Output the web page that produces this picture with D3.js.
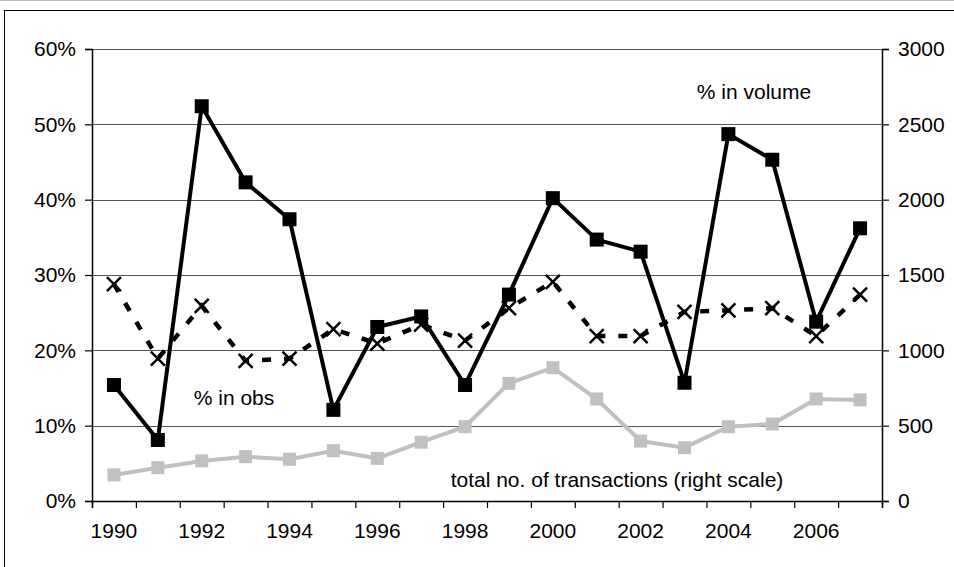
<!DOCTYPE html>
<html>
<head>
<meta charset="utf-8">
<script src="https://cdn.jsdelivr.net/npm/d3@7"></script>
<style>
    body { margin: 0; background: #fff; }
    svg text { font-family: "Liberation Sans", Arial, sans-serif; fill: #000; }
</style>
</head>
<body>
<svg id="chart" width="954" height="567"></svg>
<script>
// chart data
const years = d3.range(1990, 2008);
const pctVolume = [15.4, 8.1, 52.4, 42.3, 37.4, 12.1, 23.1, 24.5, 15.4, 27.4, 40.2, 34.7, 33.1, 15.7, 48.7, 45.3, 23.8, 36.2];
const pctObs = [28.8, 18.9, 25.9, 18.6, 18.9, 22.8, 20.9, 23.4, 21.3, 25.6, 29.1, 21.9, 21.9, 25.1, 25.3, 25.6, 21.9, 27.4];
const transactions = [173, 221, 266, 294, 277, 334, 283, 390, 493, 781, 885, 677, 398, 354, 493, 511, 677, 671];
const leftTicks = [0, 0.1, 0.2, 0.3, 0.4, 0.5, 0.6];
const rightTicks = [0, 500, 1000, 1500, 2000, 2500, 3000];

let margin = {top: 49, right: 72, bottom: 66, left: 92},
    width = 954 - margin.left - margin.right,
    height = 567 - margin.top - margin.bottom;

let svg = d3.select("#chart");

// outer frame
svg.append("line").attr("x1", 0).attr("x2", 954).attr("y1", 0.5).attr("y2", 0.5)
    .attr("stroke", "#bbb");
svg.append("rect").attr("x", 4.5).attr("y", 10.5).attr("width", 960).attr("height", 600)
    .attr("fill", "none").attr("stroke", "#000");

let g = svg.append("g")
    .attr("transform", "translate(" + margin.left + "," + margin.top + ")");

// scales
let x = d3.scaleBand().domain(years).range([0, width]).padding(0);
let xIdx = d3.scaleLinear().domain([0, years.length]).range([0, width]);
let yLeft = d3.scaleLinear().domain([0, 0.6]).range([height, 0]);
let yRight = d3.scaleLinear().domain([0, 3000]).range([height, 0]);
let cx = d => x(d) + x.bandwidth() / 2;

// gridlines
g.append("g").selectAll("line")
    .data(leftTicks.slice(1))
    .enter().append("line")
    .attr("x1", 0).attr("x2", width)
    .attr("y1", d => Math.round(yLeft(d)) + 0.5)
    .attr("y2", d => Math.round(yLeft(d)) + 0.5)
    .attr("stroke", "#555").attr("stroke-width", 1.2);

// axes
let fontSize = "21px";
let leftAxis = g.append("g")
    .call(d3.axisLeft(yLeft).tickValues(leftTicks).tickFormat(d3.format(".0%")).tickSize(7).tickPadding(9));
let rightAxis = g.append("g")
    .attr("transform", "translate(" + width + ",0)")
    .call(d3.axisRight(yRight).tickValues(rightTicks).tickFormat(d3.format("d")).tickSize(7).tickPadding(9));
let bottomTicks = g.append("g")
    .attr("transform", "translate(0," + height + ")")
    .call(d3.axisBottom(xIdx).tickValues(d3.range(years.length + 1)).tickFormat("").tickSize(7));
let bottomLabels = g.append("g")
    .attr("transform", "translate(0," + height + ")")
    .call(d3.axisBottom(x).tickSize(0).tickPadding(22)
        .tickFormat(d => (d % 2 === 0 ? d : "")));
bottomLabels.select(".domain").remove();

[leftAxis, rightAxis, bottomTicks, bottomLabels].forEach(a => {
    a.selectAll("path.domain").attr("stroke", "#000").attr("stroke-width", 1.5);
    a.selectAll(".tick line").attr("stroke", "#000").attr("stroke-width", 1.2);
    a.selectAll("text").style("font-size", fontSize).attr("font-family", null);
});

// transactions series (right scale)
let lineRight = d3.line().x((d, i) => cx(years[i])).y(d => yRight(d));
g.append("path").datum(transactions)
    .attr("d", lineRight)
    .attr("fill", "none").attr("stroke", "#c0c0c0").attr("stroke-width", 4);
g.append("g").selectAll("rect")
    .data(transactions)
    .enter().append("rect")
    .attr("x", (d, i) => cx(years[i]) - 6.5)
    .attr("y", d => yRight(d) - 6.5)
    .attr("width", 13).attr("height", 13)
    .attr("fill", "#c0c0c0");

// % in obs series (dashed, x markers)
let lineLeft = d3.line().x((d, i) => cx(years[i])).y(d => yLeft(d / 100));
g.append("path").datum(pctObs)
    .attr("d", lineLeft)
    .attr("fill", "none").attr("stroke", "#000").attr("stroke-width", 4.5)
    .attr("stroke-dasharray", "9,13");
g.append("g").selectAll("path")
    .data(pctObs)
    .enter().append("path")
    .attr("d", (d, i) => {
        let px = cx(years[i]), py = yLeft(d / 100), s = 7;
        return "M" + (px - s) + "," + (py - s) + "L" + (px + s) + "," + (py + s) +
            "M" + (px - s) + "," + (py + s) + "L" + (px + s) + "," + (py - s);
    })
    .attr("stroke", "#000").attr("stroke-width", 2.5).attr("fill", "none");

// % in volume series (solid, square markers)
g.append("path").datum(pctVolume)
    .attr("d", lineLeft)
    .attr("fill", "none").attr("stroke", "#000").attr("stroke-width", 4)
    .attr("stroke-linejoin", "round");
g.append("g").selectAll("rect")
    .data(pctVolume)
    .enter().append("rect")
    .attr("x", (d, i) => cx(years[i]) - 7)
    .attr("y", d => yLeft(d / 100) - 7)
    .attr("width", 14).attr("height", 14)
    .attr("fill", "#000");

// series labels
svg.append("text").attr("x", 754).attr("y", 99).attr("text-anchor", "middle")
    .style("font-size", fontSize).text("% in volume");
svg.append("text").attr("x", 234).attr("y", 405).attr("text-anchor", "middle")
    .style("font-size", fontSize).text("% in obs");
svg.append("text").attr("x", 617).attr("y", 487).attr("text-anchor", "middle")
    .style("font-size", fontSize).text("total no. of transactions (right scale)");
</script>
</body>
</html>
